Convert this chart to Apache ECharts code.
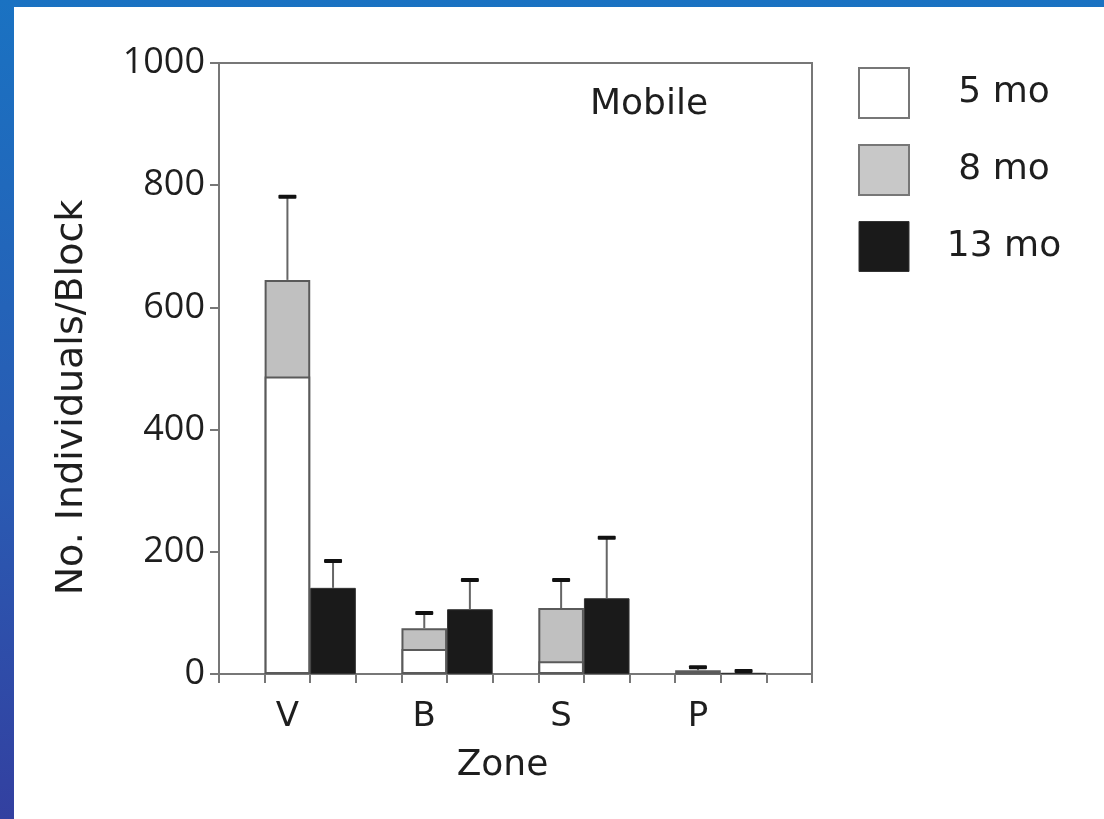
<!DOCTYPE html>
<html>
<head>
<meta charset="utf-8">
<script src="https://cdn.jsdelivr.net/npm/echarts@6/dist/echarts.min.js"></script>
<style>
  html, body { margin: 0; padding: 0; }
  #wrap { position: relative; width: 1104px; height: 819px; background: linear-gradient(to bottom, #1a72c2 0%, #2a5ab2 60%, #3340a0 100%); overflow: hidden; }
  #paper { position: absolute; left: 14px; top: 7px; right: 0; bottom: 0; background: #ffffff; }
  #chart { position: absolute; left: 0; top: 0; width: 1104px; height: 819px; }
</style>
</head>
<body>
<div id="wrap"><div id="paper"></div><div id="chart"></div></div>
<script>
// ---- data ----
const zones = ['V', 'B', 'S', 'P'];
const seriesNames = ['5 mo', '8 mo', '13 mo'];
const mo5 = [487, 41, 21, 2];
const mo8 = [645, 75, 108, 6];
const mo8Err = [136, 25, 46, 5];
const mo13 = [141, 106, 124, 2];
const mo13Err = [44, 48, 99, 3];
const yTicks = [0, 200, 400, 600, 800, 1000];
const panelLabel = 'Mobile';
const xTitle = 'Zone';
const yTitle = 'No. Individuals/Block';

// ---- build slot layout: each zone uses two slots, separated by an empty slot ----
const nSlots = zones.length * 3 + 1;
const slotNames = [];
const slotLabels = [];
for (let i = 0; i < nSlots; i++) { slotNames.push('slot' + i); slotLabels.push(''); }
zones.forEach((z, i) => { slotLabels[1 + 3 * i] = z; });
function firstSlot(i) { return 1 + 3 * i; }
function secondSlot(i) { return 2 + 3 * i; }
function fill(values, slotFn) {
  const arr = new Array(nSlots).fill('-');
  values.forEach((v, i) => { arr[slotFn(i)] = v; });
  return arr;
}
const d5 = fill(mo5, firstSlot);
const d8 = fill(mo8, firstSlot);
const d13 = fill(mo13, secondSlot);
const errData = [];
zones.forEach((z, i) => {
  errData.push([firstSlot(i), mo8[i], mo8Err[i]]);
  errData.push([secondSlot(i), mo13[i], mo13Err[i]]);
});

const font = '"Open Sans", "Liberation Sans", sans-serif';
const wfont = '"DejaVu Sans", "Open Sans", sans-serif';
const txt = '#1e1e1e';
const edge = '#5a5a5a';

const chart = echarts.init(document.getElementById('chart'), null, { renderer: 'canvas' });
chart.setOption({
  backgroundColor: 'transparent',
  animation: false,
  title: {
    text: panelLabel, left: 585, top: 82,
    textStyle: { fontFamily: wfont, fontSize: 36, fontWeight: 'normal', color: txt }
  },
  legend: {
    orient: 'vertical', left: 858, top: 67, padding: 0,
    itemWidth: 50, itemHeight: 50, itemGap: 25,
    icon: 'rect',
    data: [
      { name: seriesNames[0], itemStyle: { color: '#ffffff', borderColor: '#777', borderWidth: 2 } },
      { name: seriesNames[1], itemStyle: { color: '#c8c8c8', borderColor: '#777', borderWidth: 2 } },
      { name: seriesNames[2], itemStyle: { color: '#1a1a1a', borderColor: '#333', borderWidth: 1 } }
    ],
    formatter: n => '{t|' + n + '}',
    textStyle: {
      fontFamily: wfont, fontSize: 36, color: txt,
      rich: { t: { width: 180, height: 50, lineHeight: 50, align: 'center', fontFamily: wfont, fontSize: 36, color: txt } }
    },
    selectedMode: false
  },
  grid: {
    left: 219, top: 63, width: 593, height: 611,
    show: true, borderColor: '#777', borderWidth: 2, backgroundColor: 'transparent'
  },
  xAxis: {
    type: 'category', data: slotNames, boundaryGap: true,
    name: xTitle, nameLocation: 'middle', nameGap: 74,
    nameTextStyle: { fontFamily: wfont, fontSize: 36, color: txt, padding: [0, 26, 0, 0] },
    axisLine: { show: true, lineStyle: { color: '#777', width: 2 } },
    axisTick: { show: true, interval: 0, length: 9, lineStyle: { color: '#777', width: 2 } },
    axisLabel: {
      interval: 0, margin: 26, fontFamily: wfont, fontSize: 34, color: txt,
      formatter: (v, idx) => slotLabels[idx]
    },
    splitLine: { show: false }
  },
  yAxis: {
    type: 'value', min: 0, max: 1000, interval: 200,
    name: yTitle, nameLocation: 'middle', nameGap: 128,
    nameTextStyle: { fontFamily: wfont, fontSize: 38, color: txt, padding: [0, 58, 0, 0] },
    axisLine: { show: true, lineStyle: { color: '#777', width: 2 } },
    axisTick: { show: true, length: 9, lineStyle: { color: '#777', width: 2 } },
    axisLabel: {
      margin: 14, fontFamily: font, fontSize: 36, color: txt,
      formatter: v => (yTicks.indexOf(v) >= 0 ? String(v) : '')
    },
    splitLine: { show: false }
  },
  series: [
    {
      name: seriesNames[1], type: 'bar', data: d8, barWidth: '100%', barGap: '-100%', z: 2,
      itemStyle: { color: '#c0c0c0', borderColor: edge, borderWidth: 2 }
    },
    {
      name: seriesNames[0], type: 'bar', data: d5, barWidth: '100%', barGap: '-100%', z: 3,
      itemStyle: { color: '#ffffff', borderColor: edge, borderWidth: 2 }
    },
    {
      name: seriesNames[2], type: 'bar', data: d13, barWidth: '100%', barGap: '-100%', z: 3,
      itemStyle: { color: '#1a1a1a', borderColor: '#333', borderWidth: 1 }
    },
    {
      name: 'err', type: 'custom', z: 4, data: errData,
      renderItem: function (params, api) {
        const slot = api.value(0);
        const v = api.value(1);
        const e = api.value(2);
        const p0 = api.coord([slot, v]);
        const p1 = api.coord([slot, v + e]);
        return {
          type: 'group',
          children: [
            { type: 'line', shape: { x1: p0[0], y1: p0[1], x2: p1[0], y2: p1[1] },
              style: { stroke: '#666', lineWidth: 2 } },
            { type: 'rect', shape: { x: p1[0] - 9, y: p1[1] - 2, width: 18, height: 4, r: 1 },
              style: { fill: '#111' } }
          ]
        };
      }
    }
  ]
});
</script>
</body>
</html>
